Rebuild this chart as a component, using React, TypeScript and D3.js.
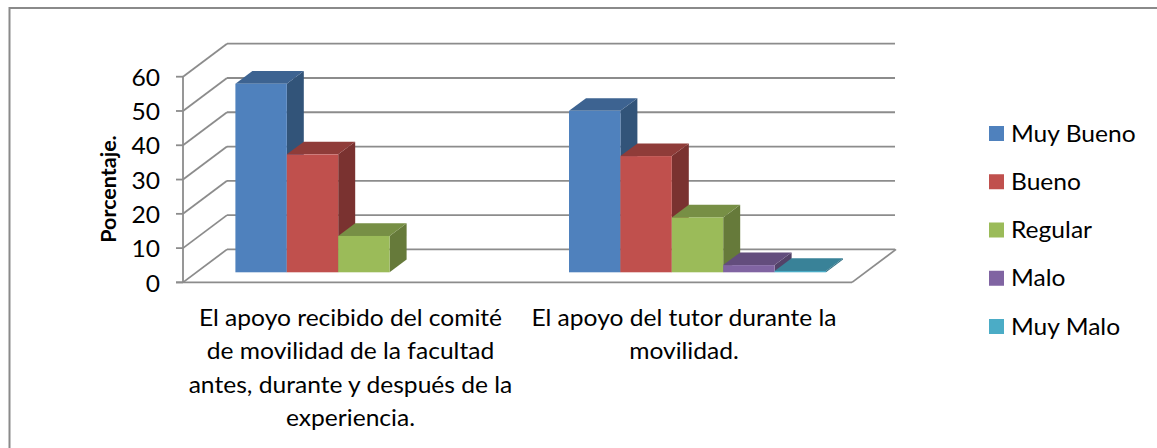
import React from "react";
import * as d3 from "d3";

const categories = [
  ["El apoyo recibido del comité", "de movilidad de la facultad", "antes, durante y después de la", "experiencia."],
  ["El apoyo del tutor durante la", "movilidad."],
];
const seriesNames = ["Muy Bueno", "Bueno", "Regular", "Malo", "Muy Malo"];
const muyBueno = [55, 47.1];
const bueno = [34.4, 33.9];
const regular = [10.6, 16];
const malo = [0, 2.1];
const muyMalo = [0, 0.4];
const seriesValues = [muyBueno, bueno, regular, malo, muyMalo];
const frontColors = ["#4f81bd", "#c0504d", "#9bbb59", "#8064a2", "#4bacc6"];
const topColors = ["#3d6391", "#8f3c39", "#778f45", "#634d7d", "#398298"];
const sideColors = ["#325479", "#7a3230", "#667a3a", "#534268", "#2f6d80"];
const yTicks = [0, 10, 20, 30, 40, 50, 60];

const W = 1157;
const H = 448;
const FONT = "Lato, Carlito, sans-serif";
const GRID = "#8c8c8c";
const STRETCH = 1.07;

const floorY = 282.4;
const y = d3.scaleLinear().domain([0, 60]).range([floorY, 76.7]);
const wallDx = 44;
const wallDy = -33;
const plotLeft = 183;
const plotRight = 852;
const xGroup = d3.scaleBand<number>().domain([0, 1]).range([plotLeft, plotLeft + 667.2]);
const xSeries = d3.scaleBand<number>().domain(d3.range(5)).range([52.4, 309.4]);
const barBaseY = 272.3;
const barDx = 17;
const barDy = -12.7;
const h = (v: number) => floorY - y(v);
const poly = d3.line<[number, number]>();

const legendY = d3.scalePoint<string>().domain(seriesNames).range([133.5, 326.5]);
const catX = [350.5, 684];
const catLineY = d3.scaleLinear().domain([0, 1]).range([317, 350.3]);

function Stretched({ x, y: ty, anchor, children }: { x: number; y: number; anchor?: string; children: React.ReactNode }) {
  return (
    <text transform={`translate(${x},${ty}) scale(${STRETCH},1)`} textAnchor={anchor} dominantBaseline="central">
      {children}
    </text>
  );
}

export default function App() {
  return (
    <svg width={W} height={H} style={{ position: "fixed", left: 0, top: 0, background: "#fff" }}>
      <path d={`M9.5,${H} V8 H${W}`} fill="none" stroke="#8a8a8a" strokeWidth={2} />

      {yTicks.map((t) => (
        <g key={t} stroke={GRID} strokeWidth={1.8} fill="none">
          <line x1={plotLeft + wallDx} x2={895} y1={y(t) + wallDy} y2={y(t) + wallDy} />
          <line x1={plotLeft} x2={plotLeft + wallDx} y1={y(t)} y2={y(t) + wallDy} />
          <line x1={176} x2={plotLeft} y1={y(t)} y2={y(t)} />
        </g>
      ))}
      <line x1={plotLeft} x2={plotLeft} y1={y(60)} y2={floorY} stroke={GRID} strokeWidth={1.8} />
      <line x1={176} x2={plotRight} y1={floorY} y2={floorY} stroke={GRID} strokeWidth={1.8} />
      <line x1={plotRight} x2={plotRight + wallDx} y1={floorY} y2={floorY + wallDy} stroke={GRID} strokeWidth={1.8} />

      {[0, 1].map((c) =>
        seriesValues.map((vals, s) => {
          const v = vals[c];
          if (v <= 0) return null;
          const x0 = (xGroup(c) as number) + (xSeries(s) as number);
          const x1 = x0 + xSeries.bandwidth();
          const top = barBaseY - h(v);
          return (
            <g key={`${c}-${s}`}>
              <path
                d={poly([[x1, barBaseY], [x1 + barDx, barBaseY + barDy], [x1 + barDx, top + barDy], [x1, top]]) + "Z"}
                fill={sideColors[s]}
              />
              <path
                d={poly([[x0, top], [x0 + barDx, top + barDy], [x1 + barDx, top + barDy], [x1, top]]) + "Z"}
                fill={topColors[s]}
              />
              <rect x={x0} y={top} width={x1 - x0} height={barBaseY - top} fill={frontColors[s]} />
            </g>
          );
        })
      )}

      <g fontFamily={FONT} fontSize={23} fill="#000">
        {yTicks.map((t) => (
          <Stretched key={t} x={160} y={y(t)} anchor="end">
            {t}
          </Stretched>
        ))}
        <text
          transform="translate(107.5,189)  rotate(-90)"
          textAnchor="middle"
          dominantBaseline="central"
          fontWeight={700}
          fontSize={21.5}
        >
          Porcentaje.
        </text>
        {categories.map((lines, c) =>
          lines.map((ln, i) => (
            <Stretched key={`${c}-${i}`} x={catX[c]} y={catLineY(i)} anchor="middle">
              {ln}
            </Stretched>
          ))
        )}
        {seriesNames.map((n, s) => (
          <g key={n}>
            <rect x={989} y={(legendY(n) as number) - 7.5} width={15} height={15} fill={frontColors[s]} />
            <Stretched x={1011} y={(legendY(n) as number) - 1}>
              {n}
            </Stretched>
          </g>
        ))}
      </g>
    </svg>
  );
}
